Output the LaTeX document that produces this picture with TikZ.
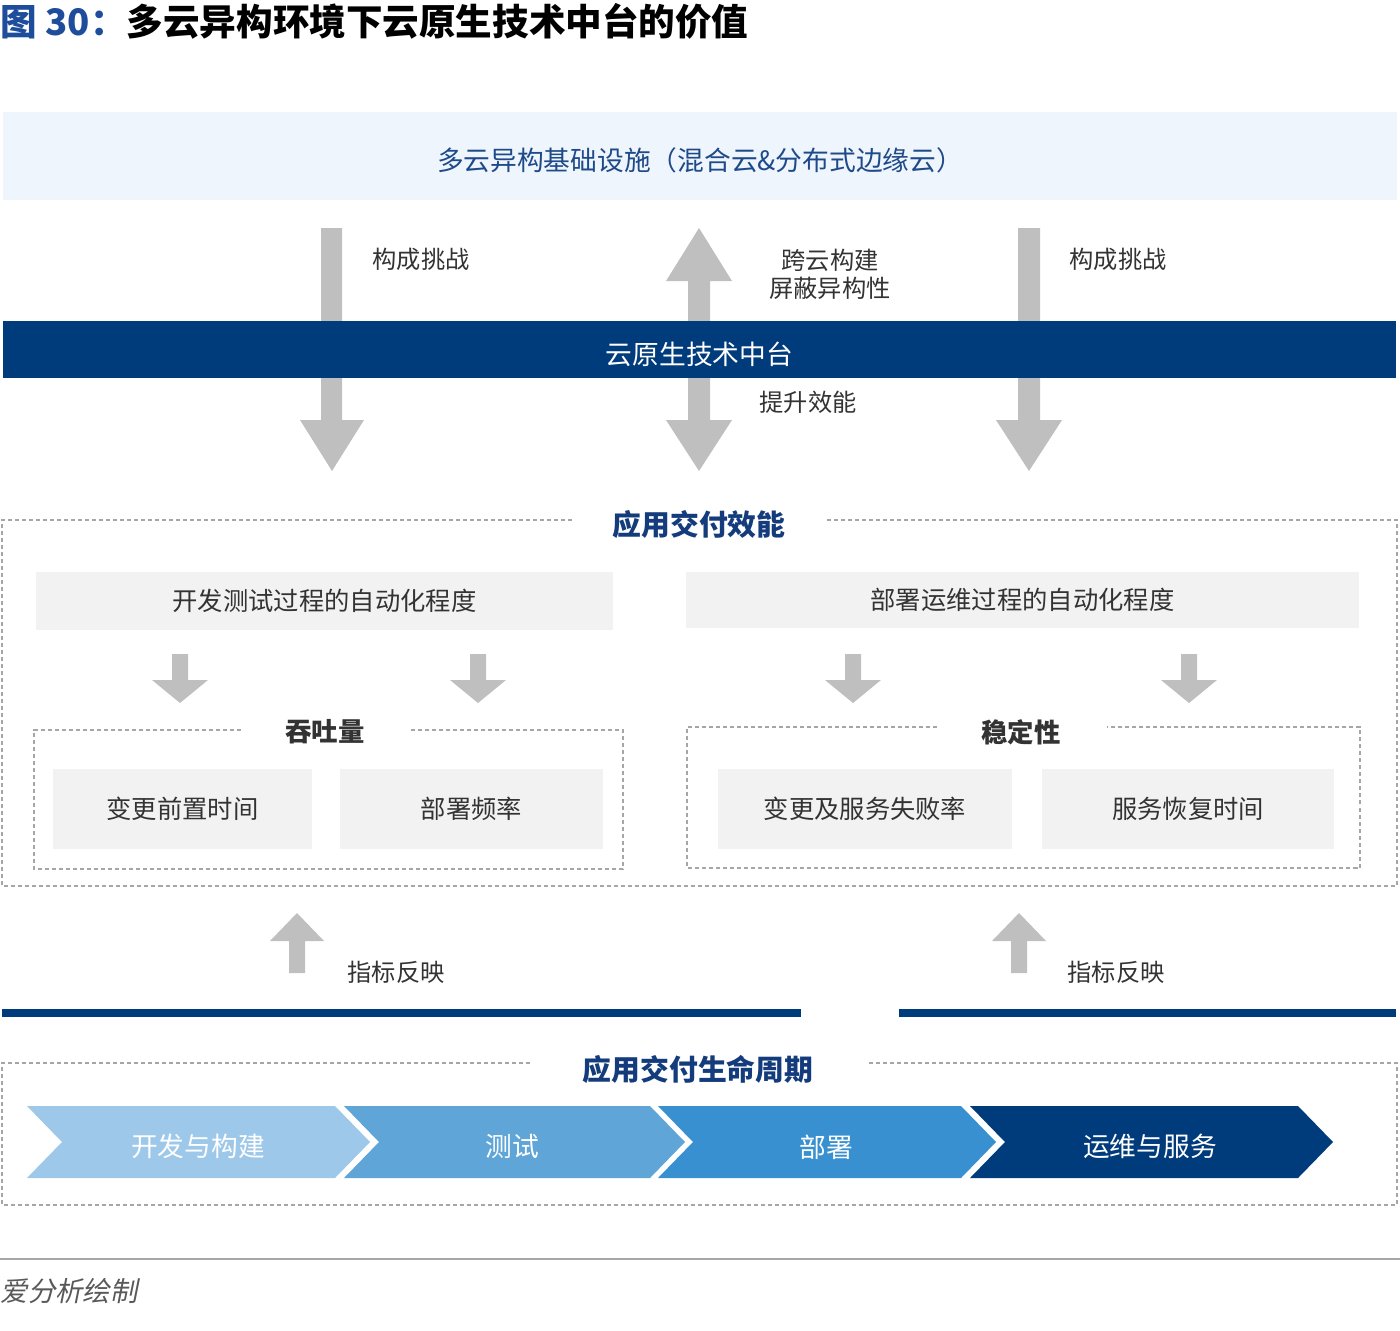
\documentclass[tikz,border=0pt]{standalone}
\usepackage{fontspec}
\setmainfont{Noto Sans CJK SC}[AutoFakeSlant=0.2]
\definecolor{bandblue}{HTML}{003B7B}
\definecolor{lightband}{HTML}{EEF5FC}
\definecolor{arrowgray}{HTML}{BFBFBF}
\definecolor{boxgray}{HTML}{F2F2F2}
\definecolor{dashgray}{HTML}{A6A6A6}
\definecolor{titleblue}{HTML}{1E4D9B}
\definecolor{headblue}{HTML}{143C7C}
\definecolor{infrablue}{HTML}{1F4A8A}
\definecolor{textdark}{HTML}{333333}
\definecolor{footgray}{HTML}{A6A6A6}
\definecolor{foottext}{HTML}{595959}
\definecolor{stepone}{HTML}{9DC8E9}
\definecolor{steptwo}{HTML}{5FA5D8}
\definecolor{stepthree}{HTML}{3890D0}

\begin{document}
\begin{tikzpicture}[x=0.01cm, y=-0.01cm]
    % Stili
    \tikzset{
        band text/.style={inner sep=0pt, font=\fontsize{7.6pt}{9pt}\selectfont},
        label text/.style={text=textdark, align=center, font=\fontsize{6.9pt}{8pt}\selectfont},
        gray box/.style={fill=boxgray, text=textdark, inner sep=0pt, font=\fontsize{7.2pt}{9pt}\selectfont},
        head text/.style={text=headblue, font=\bfseries\fontsize{8.2pt}{10pt}\selectfont},
        group text/.style={text=textdark, font=\bfseries\fontsize{7.5pt}{9pt}\selectfont},
        step text/.style={text=white, font=\fontsize{7.6pt}{9pt}\selectfont},
        dash box/.style={draw=dashgray, line width=0.012cm, dash pattern=on 0.04cm off 0.03cm},
        block arrow/.style={fill=arrowgray}
    }
    \useasboundingbox (0,0) rectangle (1400,1330);

    % Titolo
    \node[anchor=west, inner sep=0pt, font=\bfseries\fontsize{10.4pt}{12pt}\selectfont] (title) at (0,21)
        {\textcolor{titleblue}{图 30：}多云异构环境下云原生技术中台的价值};

    % Infrastruttura
    \node[fill=lightband, inner sep=0pt, minimum width=13.94cm, minimum height=0.88cm] (infra) at (700,156) {};
    \node[band text, text=infrablue] (infratext) at ([yshift=-0.04cm]infra.center)
        {多云异构基础设施（混合云\&分布式边缘云）};

    % Frecce grandi
    \fill[block arrow] (321,228) -- (342,228) -- (342,420) -- (364,420) -- (332,471) -- (300,420) -- (321,420) -- cycle;
    \fill[block arrow] (699,228) -- (732,281) -- (710,281) -- (710,420) -- (732,420) -- (699,471)
        -- (666,420) -- (688,420) -- (688,281) -- (666,281) -- cycle;
    \fill[block arrow] (1018,228) -- (1040,228) -- (1040,420) -- (1062,420) -- (1029,471) -- (996,420) -- (1018,420) -- cycle;

    % Piattaforma
    \node[fill=bandblue, inner sep=0pt, minimum width=13.93cm, minimum height=0.57cm] (platform) at (699.5,349.5) {};
    \node[band text, text=white] (platformtext) at ([yshift=-0.045cm]platform.center) {云原生技术中台};

    \node[label text] (challengeL) at (421,259) {构成挑战};
    \node[label text] (crosscloud) at (830,274) {跨云构建\\屏蔽异构性};
    \node[label text] (boost) at (808,402) {提升效能};
    \node[label text] (challengeR) at (1118,259) {构成挑战};

    % Efficienza di consegna
    \draw[dash box] (572,520) -- (2,520) -- (2,886) -- (1397,886) -- (1397,520) -- (826,520);
    \node[head text] (efficiency) at (699,524) {应用交付效能};

    \node[gray box, minimum width=5.77cm, minimum height=0.58cm] (devauto) at (324.5,601) {开发测试过程的自动化程度};
    \node[gray box, minimum width=6.73cm, minimum height=0.56cm] (opsauto) at (1022.5,600) {部署运维过程的自动化程度};

    \foreach \ax in {180,478,853,1189}
        \fill[block arrow] ({\ax-8},654) -- ({\ax+8},654) -- ({\ax+8},680) -- ({\ax+28},680) -- ({\ax},703)
            -- ({\ax-28},680) -- ({\ax-8},680) -- cycle;

    \draw[dash box] (241,730) -- (34,730) -- (34,869) -- (623,869) -- (623,730) -- (410,730);
    \node[group text] (throughput) at (325,732) {吞吐量};
    \node[gray box, minimum width=2.59cm, minimum height=0.8cm] (leadtime) at (182.5,809) {变更前置时间};
    \node[gray box, minimum width=2.63cm, minimum height=0.8cm] (deployfreq) at (471.5,809) {部署频率};

    \draw[dash box] (937,727) -- (687,727) -- (687,868) -- (1360,868) -- (1360,727) -- (1107,727);
    \node[group text] (stability) at (1021,732) {稳定性};
    \node[gray box, minimum width=2.94cm, minimum height=0.8cm] (failrate) at (865,809) {变更及服务失败率};
    \node[gray box, minimum width=2.92cm, minimum height=0.8cm] (restore) at (1188,809) {服务恢复时间};

    % Indicatori
    \foreach \ux in {297,1019}
        \fill[block arrow] ({\ux},913) -- ({\ux+27},941) -- ({\ux+8},941) -- ({\ux+8},973) -- ({\ux-8},973)
            -- ({\ux-8},941) -- ({\ux-27},941) -- cycle;
    \node[label text] (metricL) at (396,972) {指标反映};
    \node[label text] (metricR) at (1116,972) {指标反映};

    \draw[bandblue, line width=0.08cm] (2,1013) -- (801,1013);
    \draw[bandblue, line width=0.08cm] (899,1013) -- (1396,1013);

    % Ciclo di vita
    \draw[dash box] (530,1063) -- (2,1063) -- (2,1205) -- (1397,1205) -- (1397,1063) -- (866,1063);
    \node[head text] (lifecycle) at (698,1069) {应用交付生命周期};

    \fill[stepone] (27,1106) -- (335,1106) -- (370,1142) -- (335,1178) -- (27,1178) -- (62,1142) -- cycle;
    \fill[steptwo] (344,1106) -- (650,1106) -- (685,1142) -- (650,1178) -- (344,1178) -- (379,1142) -- cycle;
    \fill[stepthree] (658,1106) -- (961,1106) -- (996,1142) -- (961,1178) -- (658,1178) -- (693,1142) -- cycle;
    \fill[bandblue] (970,1106) -- (1298,1106) -- (1333,1142) -- (1298,1178) -- (970,1178) -- (1005,1142) -- cycle;
    \node[step text] (build) at (198,1146) {开发与构建};
    \node[step text] (test) at (512,1146) {测试};
    \node[step text] (deploy) at (826,1147) {部署};
    \node[step text] (operate) at (1150,1146) {运维与服务};

    % Fonte
    \draw[footgray, line width=0.02cm] (0,1259) -- (1400,1259);
    \node[anchor=west, inner sep=0pt, text=foottext, font=\itshape\fontsize{7.8pt}{9pt}\selectfont] (source) at (0,1291) {爱分析绘制};
\end{tikzpicture}
\end{document}
